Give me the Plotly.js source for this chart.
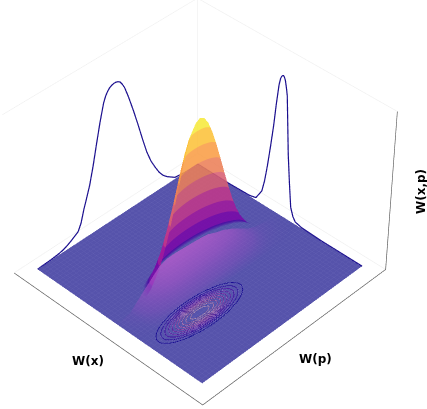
<!DOCTYPE html>
<html><head><meta charset="utf-8">
<script src="https://cdn.plot.ly/plotly-3.0.0.min.js"></script>
<style>html,body{margin:0;padding:0;background:#fff;overflow:hidden;width:427px;height:409px}
#wrap{position:absolute;left:0;top:0;width:427px;height:409px;overflow:hidden}
#chart{position:absolute;left:-761px;top:-707px}</style></head>
<body><div id="wrap"><div id="chart"></div></div>
<script>
const pOut=[0,.05,.1,.15,.2,.25,.3,.35,.4,.45,.5,.6,.7,.85,1];
const xSigned=[-.3,-.27,-.24,-.21,-.18,-.15,-.12,-.09,-.06,-.03,0,.03,.06,.09,.12,.15,.18,.21,.24,.27,.3];
const xOut=[0,.03,.06,.09,.12,.15,.18,.21,.24,.27,.3];
const peakHalf=[
[1,.983,.934,.857,.76,.651,.539,.432,.334,.249,.18,.085,.035,.007,.001],
[.951,.935,.888,.815,.723,.619,.513,.411,.318,.237,.171,.081,.033,.007,.001],
[.819,.805,.765,.702,.622,.533,.441,.354,.274,.204,.147,.07,.029,.006,.001],
[.638,.627,.596,.547,.485,.415,.344,.276,.213,.159,.115,.054,.022,.004,.001],
[.45,.442,.42,.386,.342,.293,.243,.194,.15,.112,.081,.038,.016,.003,0],
[.288,.283,.269,.247,.219,.187,.155,.124,.096,.072,.052,.024,.01,.002,0],
[.166,.163,.155,.142,.126,.108,.089,.072,.055,.041,.03,.014,.006,.001,0],
[.087,.086,.081,.075,.066,.057,.047,.038,.029,.022,.016,.007,.003,.001,0],
[.041,.04,.038,.035,.031,.027,.022,.018,.014,.01,.007,.003,.001,0,0],
[.018,.018,.017,.015,.014,.012,.01,.008,.006,.004,.003,.002,.001,0,0],
[.007,.007,.007,.006,.005,.005,.004,.003,.002,.002,.001,.001,0,0,0]];
const sheetP=[-1,-.85,-.7,-.6,-.5,-.4,-.3,-.2,-.1,0,.1,.2,.3,.4,.5,.6,.7,.85,1];
const sheetRear=[.003,.02,.1,.15,.2,.22,.22,.215,.21,.205,.195,.17,.15,.12,.085,.045,.02,.006,0];
const sheetX=[0,.03,.06,.09,.12,.15,.18,.21,.24,.27,.3];
const sheetFall=[1,.97,.9,.8,.68,.55,.42,.3,.19,.09,0];
const margPp=[-1,-.85,-.75,-.7,-.65,-.6,-.55,-.51,-.47,-.43,-.4,-.35,-.3,-.25,-.2,-.15,-.125,-.1,-.075,-.05,-.025,0,.025,.05,.075,.1,.125,.15,.2,.25,.3,.35,.4,.45,.5,.55,.6,.7,.8,.9,1];
const margPz=[0,.004,.01,.016,.027,.042,.06,.074,.12,.2,.25,.336,.45,.58,.705,.815,.85,.873,.888,.896,.9,.9,.895,.885,.862,.833,.79,.745,.645,.537,.423,.316,.235,.175,.121,.081,.054,.013,.004,0,0];
const margXx=[-1,-.6,-.35,-.27,-.2,-.17,-.14,-.11,-.08,-.055,-.03,-.015,-.005,.005,.018,.03,.04,.055,.067,.085,.1,.125,.15,.18,.21,.285,.5,1];
const margXz=[0,0,.006,.018,.09,.172,.289,.428,.578,.736,.867,.91,.925,.935,.94,.93,.915,.87,.825,.62,.45,.262,.1,.045,.018,.006,0,0];
const floorTicks=[-1,-.5,0,.5,1];
const boxEdge=1.147, boxLow=-.025, boxHigh=1.03;
const ringLevels=[.2,.28,.36,.44,.52,.6,.68,.76,.84,.92];
const ringColors=['#1a0f92','#2a0f98','#3f109c','#55149c','#691c9a','#7a2a96','#863a94','#8c4a94','#8f5a98','#8f6a9e'];
const ringShiftX=.64, ringShiftP=-.66, ringZ=.2;
const bands=[[0,'#4b0aa2'],[.1,'#4b0aa2'],[.1,'#7a08a8'],[.2,'#7a08a8'],[.2,'#a01a9c'],[.3,'#a01a9c'],[.3,'#c0388a'],[.42,'#c0388a'],[.42,'#d85f72'],[.54,'#d85f72'],[.54,'#ec8058'],[.66,'#ec8058'],[.66,'#f99d46'],[.78,'#f99d46'],[.78,'#fcc13a'],[.9,'#fcc13a'],[.9,'#f6e93c'],[1,'#f6e93c']];

const mirror=r=>r.slice(1).reverse().concat(r);
const transpose=m=>m[0].map((_,j)=>m.map(r=>r[j]));
const signedGrid=o=>mirror(o).map((v,i)=>i<o.length-1?-v:v);
const pGrid=signedGrid(pOut);
const peakRows=mirror(peakHalf.map(mirror));
const peakBack=peakRows.slice(0,11);
const sheetRows=sheetFall.map(f=>sheetRear.map(v=>f*v));
function locate(g,v){let i=0;while(i<g.length-2&&v>g[i+1])i++;return [i,Math.min(1,(v-g[i])/(g[i+1]-g[i]))];}
function sample(x,p){const [i,a]=locate(xOut,Math.abs(x)),[j,b]=locate(pOut,Math.abs(p));
 return (1-a)*((1-b)*peakHalf[i][j]+b*peakHalf[i][j+1])+a*((1-b)*peakHalf[i+1][j]+b*peakHalf[i+1][j+1]);}
function ring(level){const xs=[],ps=[];for(let k=0;k<=72;k++){const t=k*Math.PI/36,cx=.3*Math.cos(t),cp=Math.sin(t);let r=0;while(r<1&&sample(r*cx,r*cp)>level)r+=.002;xs.push(r*cx+ringShiftX);ps.push(r*cp+ringShiftP);}return {xs,ps};}
const flat={ambient:1,diffuse:0,specular:0,roughness:1,fresnel:0};
const noC={x:{highlight:false},y:{highlight:false},z:{highlight:false}};
const mesh=(step,c)=>({show:true,start:-1,end:1,size:step,color:c,width:1,highlight:false});
const E=boxEdge;
const ringTraces=ringLevels.map((l,i)=>{const r=ring(l);return {type:'scatter3d',mode:'lines',x:r.xs,y:r.ps,z:r.xs.map(()=>ringZ),line:{color:ringColors[i],width:i<3?2:1.6},hoverinfo:'skip',showlegend:false};});
const traces=[
{type:'surface',x:floorTicks,y:floorTicks,z:floorTicks.map(()=>floorTicks.map(()=>0)),showscale:false,colorscale:[[0,'#0d0887'],[1,'#0d0887']],cmin:0,cmax:1,opacity:.7,lighting:flat,hoverinfo:'skip',
 contours:{x:mesh(.04,'#605db1'),y:mesh(.04,'#605db1'),z:{highlight:false}}},
{type:'surface',x:xSigned.slice(0,11),y:pGrid,z:transpose(peakBack),showscale:false,colorscale:bands,cmin:0,cmax:1,lighting:flat,hoverinfo:'skip',
 opacityscale:[[0,0],[.05,0],[.09,.88],[1,.88]],contours:noC},
{type:'surface',x:sheetX,y:sheetP,z:transpose(sheetRows),showscale:false,colorscale:[[0,'#9a49c4'],[1,'#b65ccc']],cmin:0,cmax:.22,lighting:flat,hoverinfo:'skip',
 opacityscale:[[0,0],[.2,.3],[.6,.62],[1,.8]],contours:noC},
{type:'scatter3d',mode:'lines',x:margPp.map(()=>-1),y:margPp,z:margPz,line:{color:'#1a0e8e',width:2.4},hoverinfo:'skip',showlegend:false},
{type:'scatter3d',mode:'lines',x:margXx,y:margXx.map(()=>1),z:margXz,line:{color:'#1a0e8e',width:2.4},hoverinfo:'skip',showlegend:false},
{type:'scatter3d',mode:'lines',x:[-E,E,E,E],y:[-E,-E,E,E],z:[boxLow,boxLow,boxLow,boxHigh],line:{color:'#555555',width:1.3},hoverinfo:'skip',showlegend:false},
{type:'scatter3d',mode:'lines',x:[-E,-E,E,null,-E,-E,null,-E,-E,E],y:[-E,E,E,null,E,E,null,-E,E,E],z:[boxLow,boxLow,boxLow,null,boxLow,boxHigh,null,boxHigh,boxHigh,boxHigh],connectgaps:false,line:{color:'#ececec',width:1},hoverinfo:'skip',showlegend:false}
].concat(ringTraces);
const hidden={showgrid:false,showline:false,zeroline:false,showticklabels:false,showspikes:false,showbackground:false,ticks:'',title:{text:''}};
const W=1922,H=1841,ox=761,oy=707;
const lab=(t,px,py,ang,size)=>({text:'<b>'+t+'</b>',xref:'paper',yref:'paper',x:(px+ox)/W,y:1-(py+oy)/H,showarrow:false,xanchor:'center',yanchor:'middle',textangle:ang,font:{family:'DejaVu Sans',size:size,color:'#000'}});
Plotly.newPlot('chart',traces,{
 width:W,height:H,margin:{l:0,r:0,t:0,b:0},paper_bgcolor:'#fff',showlegend:false,
 scene:{domain:{x:[0,1],y:[0,1]},aspectmode:'manual',aspectratio:{x:1,y:1,z:1.05},
  xaxis:Object.assign({range:[-1.15,1.15]},hidden),yaxis:Object.assign({range:[-1.15,1.15]},hidden),zaxis:Object.assign({range:[-.35,1.1]},hidden),
  camera:{projection:{type:'perspective'},up:{x:0,y:0,z:1},center:{x:0,y:0,z:0},eye:{x:4.345,y:-4.465,z:5.40}}},
 annotations:[lab('W(x)',88,361,0,12),lab('W(p)',315,359,0,12),lab('W(x,p)',421,192,-90,12)]
},{displayModeBar:false});
</script></body></html>
